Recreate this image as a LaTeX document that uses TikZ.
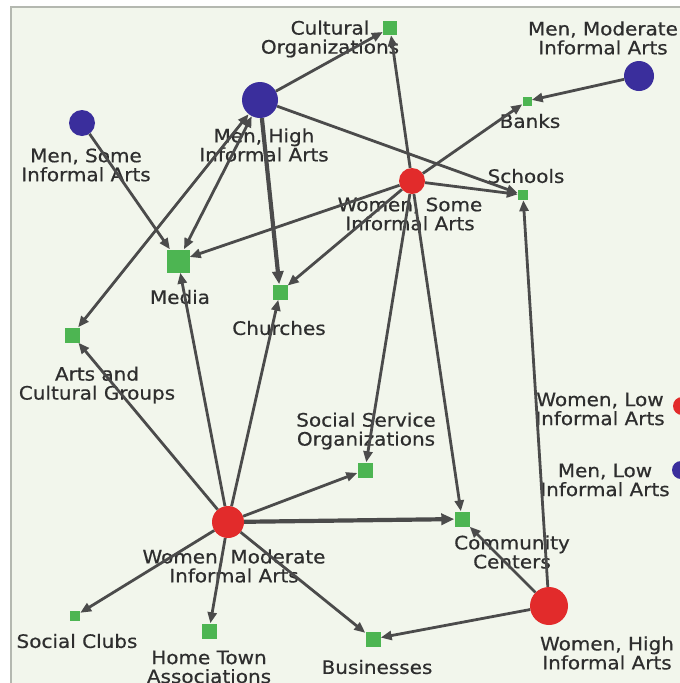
\documentclass[tikz,border=0pt]{standalone}
\usepackage{fontspec}
\setmainfont{DejaVu Sans}[FakeStretch=1.08,FakeBold=0.6]
\usetikzlibrary{arrows.meta}
\definecolor{bgc}{HTML}{F2F6EC}
\definecolor{brd}{HTML}{B4B8B0}
\definecolor{grn}{HTML}{4DB552}
\definecolor{redc}{HTML}{E22B2B}
\definecolor{bluc}{HTML}{3A2E9C}
\definecolor{edgec}{HTML}{4B4B4B}
\definecolor{txtc}{HTML}{2E2E2E}
\tikzset{
  lbl/.style={font=\fontsize{18.5}{19}\selectfont, text=txtc, align=center, inner sep=0pt},
  sqnode/.style={rectangle, fill=grn, inner sep=0pt, minimum size=#1},
  rnode/.style={circle, fill=redc, inner sep=0pt, minimum size=#1},
  bnode/.style={circle, fill=bluc, inner sep=0pt, minimum size=#1},
  conn/.style={draw=edgec, line width=2.8pt, -{Triangle[length=11pt,width=9pt]}},
  conn2/.style={draw=edgec, line width=2.8pt, {Triangle[length=11pt,width=9pt]}-{Triangle[length=11pt,width=9pt]}},
  heavy/.style={line width=4.2pt, -{Triangle[length=13pt,width=11pt]}}
}
\begin{document}
\begin{tikzpicture}[x=1pt,y=-1pt]
\useasboundingbox (0,0) rectangle (680,683);
\clip (0,0) rectangle (680,683);
\fill[white] (0,0) rectangle (680,683);
\fill[bgc] (11,7) rectangle (680,683);
\draw[brd, line width=1.5pt] (11,683) -- (11,7) -- (680,7);

% labels
\node[lbl] (co-l) at (330,39) {Cultural\\Organizations};
\node[lbl] (mm-l) at (603,38) {Men, Moderate\\Informal Arts};
\node[lbl] (mh-l) at (264,145) {Men, High\\Informal Arts};
\node[lbl] (ms-l) at (86,165) {Men, Some\\Informal Arts};
\node[lbl] (bank-l) at (530,121) {Banks};
\node[lbl] (ws-l) at (410,214) {Women, Some\\Informal Arts};
\node[lbl] (sch-l) at (526,176) {Schools};
\node[lbl] (med-l) at (180,297) {Media};
\node[lbl] (chu-l) at (279,328) {Churches};
\node[lbl] (acg-l) at (97,385) {Arts and\\Cultural Groups};
\node[lbl] (sso-l) at (366,431) {Social Service\\Organizations};
\node[lbl] (wl-l) at (600,409) {Women, Low\\Informal Arts};
\node[lbl] (ml-l) at (605,480) {Men, Low\\Informal Arts};
\node[lbl] (wm-l) at (234,566) {Women, Moderate\\Informal Arts};
\node[lbl] (cc-l) at (512,552) {Community\\Centers};
\node[lbl] (wh-l) at (607,653) {Women, High\\Informal Arts};
\node[lbl] (scl-l) at (77,641) {Social Clubs};
\node[lbl] (hta-l) at (209,667) {Home Town\\Associations};
\node[lbl] (bus-l) at (377,667) {Businesses};

% nodes
\node[sqnode=14pt] (co) at (390,28) {};
\node[bnode=30pt] (mm) at (639,76) {};
\node[bnode=36pt] (mh) at (260,100) {};
\node[bnode=26pt] (ms) at (82,123) {};
\node[sqnode=9pt] (bank) at (527,101) {};
\node[rnode=26pt] (ws) at (412,181) {};
\node[sqnode=10pt] (sch) at (523,195) {};
\node[sqnode=23pt] (med) at (178,261) {};
\node[sqnode=15pt] (chu) at (280,292) {};
\node[sqnode=15pt] (acg) at (72,335) {};
\node[sqnode=15pt] (sso) at (365,470) {};
\node[rnode=18pt] (wl) at (682,406) {};
\node[bnode=18pt] (ml) at (681,470) {};
\node[rnode=32pt] (wm) at (228,522) {};
\node[sqnode=15pt] (cc) at (462,519) {};
\node[rnode=38pt] (wh) at (549,606) {};
\node[sqnode=10pt] (scl) at (75,616) {};
\node[sqnode=15pt] (hta) at (209,631) {};
\node[sqnode=15pt] (bus) at (373,639) {};

% connectors
\draw[conn] (mh) -- (co);
\draw[conn] (mh) -- (sch);
\draw[conn2] (mh) -- (med);
\draw[conn2] (mh) -- (acg);
\draw[conn, heavy] (mh) -- (chu);
\draw[conn] (ms) -- (med);
\draw[conn] (mm) -- (bank);
\draw[conn] (ws) -- (co);
\draw[conn] (ws) -- (bank);
\draw[conn] (ws) -- (sch);
\draw[conn] (ws) -- (med);
\draw[conn] (ws) -- (chu);
\draw[conn] (ws) -- (sso);
\draw[conn] (ws) -- (cc);
\draw[conn] (wm) -- (acg);
\draw[conn] (wm) -- (med);
\draw[conn] (wm) -- (chu);
\draw[conn] (wm) -- (sso);
\draw[conn, heavy] (wm) -- (cc);
\draw[conn] (wm) -- (scl);
\draw[conn] (wm) -- (hta);
\draw[conn] (wm) -- (bus);
\draw[conn] (wh) -- (sch);
\draw[conn] (wh) -- (cc);
\draw[conn] (wh) -- (bus);
\end{tikzpicture}
\end{document}
